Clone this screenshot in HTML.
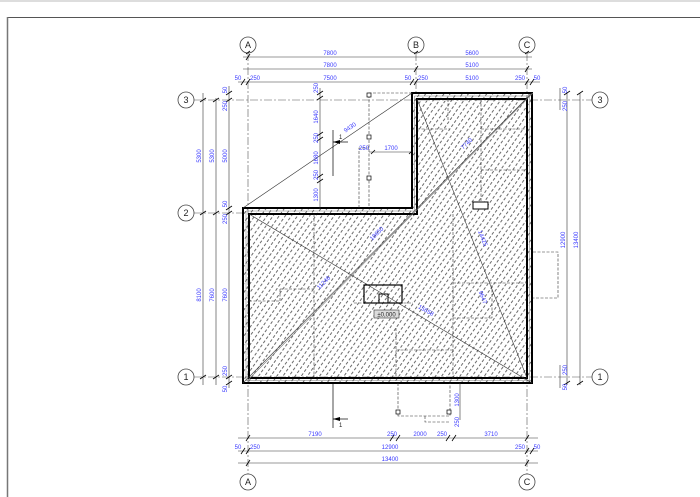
<!DOCTYPE html>
<html><head><meta charset="utf-8"><style>
html,body{margin:0;padding:0;background:#fff;width:700px;height:497px;overflow:hidden}
svg{display:block}
text{font-family:"Liberation Sans",sans-serif;font-size:6px;fill:#3a3aff}
.k{fill:#222;font-size:9px}
</style></head><body>
<svg width="700" height="497" viewBox="0 0 700 497">
<defs>
<pattern id="h" width="5" height="5" patternUnits="userSpaceOnUse" patternTransform="rotate(-55)">
<line x1="0" y1="2.5" x2="3" y2="2.5" stroke="#444" stroke-width="0.8"/>
</pattern>
</defs>
<rect x="0" y="0" width="700" height="2" fill="#ddd"/>
<line x1="7" y1="17.5" x2="700" y2="17.5" stroke="#555" stroke-width="1"/>
<line x1="7.5" y1="17" x2="7.5" y2="497" stroke="#777" stroke-width="1.5"/>

<g stroke="#555" stroke-width="0.6" stroke-dasharray="8,2,2,2" fill="none">
<line x1="248" y1="53" x2="248" y2="474"/>
<line x1="416" y1="53" x2="416" y2="93"/>
<line x1="527" y1="53" x2="527" y2="474"/>
<line x1="194" y1="100" x2="592" y2="100"/>
<line x1="194" y1="213" x2="243" y2="213"/>
<line x1="194" y1="377" x2="592" y2="377"/>
</g>
<g fill="#fff" stroke="#444" stroke-width="0.8">
<circle cx="248" cy="45" r="8"/><circle cx="416" cy="45" r="8"/><circle cx="527" cy="45" r="8"/>
<circle cx="186" cy="100" r="8"/><circle cx="186" cy="213" r="8"/><circle cx="186" cy="377" r="8"/>
<circle cx="600" cy="100" r="8"/><circle cx="600" cy="377" r="8"/>
<circle cx="248" cy="482" r="8"/><circle cx="527" cy="482" r="8"/>
</g>
<g text-anchor="middle">
<text class="k" x="248" y="48">A</text><text class="k" x="416" y="48">B</text><text class="k" x="527" y="48">C</text>
<text class="k" x="186" y="103">3</text><text class="k" x="186" y="216">2</text><text class="k" x="186" y="380">1</text>
<text class="k" x="600" y="103">3</text><text class="k" x="600" y="380">1</text>
<text class="k" x="248" y="485">A</text><text class="k" x="527" y="485">C</text>
</g>

<path d="M412,93 H532 V383 H243 V208 H412 Z" fill="url(#h)"/>
<path d="M412,93 H532 V383 H243 V208 H412 Z" fill="none" stroke="#000" stroke-width="2"/>
<path d="M417,99 H527 V378 H249 V214 H417 Z" fill="none" stroke="#000" stroke-width="2"/>
<path d="M414.5,96 H529.5 V380.5 H246 V211 H414.5 Z" fill="none" stroke="#555" stroke-width="0.4"/>

<g stroke="#333" stroke-width="0.6" fill="none">
<line x1="243" y1="208" x2="412" y2="93"/>
<line x1="532" y1="93" x2="243" y2="383"/>
<line x1="249" y1="214" x2="532" y2="383"/>
<line x1="417" y1="99" x2="527" y2="378"/>
<line x1="533" y1="93" x2="248" y2="380" stroke="#777"/>
</g>
<g stroke="#333" stroke-width="0.6" fill="none" stroke-dasharray="3,1.5">
<line x1="314" y1="214" x2="314" y2="378"/>
<line x1="453" y1="214" x2="453" y2="378"/>
<line x1="481" y1="99" x2="481" y2="208"/>
<line x1="417" y1="129" x2="450" y2="129"/>
<line x1="481" y1="129" x2="527" y2="129"/>
<line x1="481" y1="170" x2="527" y2="170"/>
<line x1="453" y1="283" x2="527" y2="283"/>
<line x1="453" y1="318" x2="492" y2="318"/>
<line x1="492" y1="285" x2="492" y2="318"/>
<line x1="249" y1="301" x2="280" y2="301"/>
<line x1="280" y1="289" x2="280" y2="301"/>
<line x1="280" y1="289" x2="314" y2="289"/>
<line x1="396" y1="350" x2="453" y2="350"/>
<line x1="396" y1="328" x2="396" y2="378"/>
<line x1="448" y1="99" x2="448" y2="120"/>
<line x1="354" y1="303" x2="413" y2="303"/>
</g>
<rect x="364" y="285" width="38" height="18" fill="none" stroke="#000" stroke-width="1.2"/>
<rect x="379" y="294" width="9" height="9" fill="none" stroke="#000" stroke-width="1"/>
<rect x="473" y="202" width="15" height="7" fill="#fff" stroke="#000" stroke-width="1"/>
<rect x="374" y="310" width="25" height="8" fill="#ddd" stroke="#333" stroke-width="0.6"/>
<text x="386.5" y="316.5" text-anchor="middle" style="fill:#222">±0,000</text>

<g stroke="#333" stroke-width="0.6" fill="none" stroke-dasharray="3,1.5">
<path d="M412,93 H369 V208"/>
<path d="M359,208 V148 H369"/>
<path d="M533,252 H558 V298 H533"/>
<path d="M398,383 V416 H450 V383"/>
<path d="M425,416 V422 H450"/>
</g>
<g fill="#fff" stroke="#000" stroke-width="0.7">
<rect x="367" y="93" width="4" height="4"/><rect x="367" y="135" width="4" height="4"/><rect x="367" y="176" width="4" height="4"/>
<rect x="396" y="410" width="4" height="4"/><rect x="447" y="410" width="4" height="4"/>
</g>

<g stroke="#000" stroke-width="0.7">
<line x1="333" y1="130" x2="333" y2="176"/>
<line x1="333" y1="142" x2="348" y2="142"/>
<line x1="333" y1="383" x2="333" y2="428"/>
<line x1="333" y1="419" x2="348" y2="419"/>
</g>
<polygon points="333,142 340,140 340,144" fill="#000"/>
<polygon points="333,419 340,417 340,421" fill="#000"/>
<text x="339" y="139" style="fill:#222">1</text>
<text x="339" y="427" style="fill:#222">1</text>

<g stroke="#333" stroke-width="0.6">
<line x1="243" y1="57" x2="532" y2="57"/>
<line x1="243" y1="69" x2="532" y2="69"/>
<line x1="238" y1="82" x2="540" y2="82"/>
<line x1="238" y1="438" x2="538" y2="438"/>
<line x1="238" y1="451" x2="538" y2="451"/>
<line x1="238" y1="463" x2="538" y2="463"/>
<line x1="203" y1="93" x2="203" y2="385"/>
<line x1="216" y1="98" x2="216" y2="385"/>
<line x1="229" y1="86" x2="229" y2="388"/>
<line x1="567" y1="93" x2="567" y2="385"/>
<line x1="580" y1="93" x2="580" y2="385"/>
<line x1="320" y1="88" x2="320" y2="209"/>
<line x1="369" y1="152" x2="411" y2="152"/>
<line x1="460" y1="383" x2="460" y2="420"/>
<line x1="560" y1="88" x2="560" y2="110"/>
<line x1="560" y1="365" x2="560" y2="388"/>
</g>
<g stroke="#000" stroke-width="0.8">
<path d="M246,54l4,-3M414,54l4,-3M525,54l4,-3"/>
<path d="M246,60l4,-6M414,72l4,-6M525,72l4,-6"/>
<path d="M241,85l4,-6M246,85l4,-6M410,85l4,-6M414,85l4,-6M525,85l4,-6M530,85l4,-6"/>
<path d="M246,441l4,-6M390,441l4,-6M396,441l4,-6M446,441l4,-6M452,441l4,-6M525,441l4,-6"/>
<path d="M241,454l4,-6M246,454l4,-6M525,454l4,-6M530,454l4,-6"/>
<path d="M246,466l4,-6M525,466l4,-6"/>
<path d="M200,102l6,-4M200,215l6,-4M200,379l6,-4"/>
<path d="M213,102l6,-4M213,215l6,-4M213,379l6,-4"/>
<path d="M226,95l6,-4M226,102l6,-4M226,210l6,-4M226,215l6,-4M226,379l6,-4M226,385l6,-4"/>
<path d="M564,95l6,-4M564,385l6,-4M577,95l6,-4M577,385l6,-4"/>
<path d="M317,95l6,-4M317,100l6,-4M317,136l6,-4M317,141l6,-4M317,178l6,-4M317,183l6,-4"/>
<path d="M371,154l4,-4M409,154l4,-4"/>
</g>

<g text-anchor="middle">
<text x="330" y="55">7800</text><text x="472" y="55">5600</text>
<text x="330" y="67">7800</text><text x="472" y="67">5100</text>
<text x="238" y="80">50</text><text x="255" y="80">250</text><text x="330" y="80">7500</text>
<text x="408" y="80">50</text><text x="423" y="80">250</text><text x="472" y="80">5100</text>
<text x="520" y="80">250</text><text x="537" y="80">50</text>
<text x="315" y="436">7190</text><text x="392" y="436">250</text><text x="420" y="436">2000</text>
<text x="442" y="436">250</text><text x="491" y="436">3710</text>
<text x="238" y="449">50</text><text x="255" y="449">250</text><text x="390" y="449">12900</text>
<text x="520" y="449">250</text><text x="537" y="449">50</text>
<text x="390" y="461">13400</text>
<text x="391" y="150">1700</text><text x="364" y="150">250</text>
</g>
<g text-anchor="middle">
<text transform="translate(201,156) rotate(-90)">5300</text>
<text transform="translate(214,156) rotate(-90)">5300</text>
<text transform="translate(227,156) rotate(-90)">5000</text>
<text transform="translate(201,295) rotate(-90)">8100</text>
<text transform="translate(214,295) rotate(-90)">7600</text>
<text transform="translate(227,295) rotate(-90)">7600</text>
<text transform="translate(227,90) rotate(-90)">50</text>
<text transform="translate(227,106) rotate(-90)">250</text>
<text transform="translate(227,204) rotate(-90)">50</text>
<text transform="translate(227,219) rotate(-90)">250</text>
<text transform="translate(227,371) rotate(-90)">250</text>
<text transform="translate(227,389) rotate(-90)">50</text>
<text transform="translate(565,240) rotate(-90)">12900</text>
<text transform="translate(578,240) rotate(-90)">13400</text>
<text transform="translate(567,370) rotate(-90)">250</text>
<text transform="translate(567,387) rotate(-90)">50</text>
<text transform="translate(567,106) rotate(-90)">250</text>
<text transform="translate(567,90) rotate(-90)">50</text>
<text transform="translate(318,88) rotate(-90)">250</text>
<text transform="translate(318,117) rotate(-90)">1640</text>
<text transform="translate(318,138) rotate(-90)">250</text>
<text transform="translate(318,158) rotate(-90)">1680</text>
<text transform="translate(318,175) rotate(-90)">250</text>
<text transform="translate(318,195) rotate(-90)">1300</text>
<text transform="translate(459,400) rotate(-90)">1300</text>
<text transform="translate(459,422) rotate(-90)">250</text>
<text transform="translate(351,129) rotate(-34)">9430</text>
<text transform="translate(468,145) rotate(-45)">7740</text>
<text transform="translate(378,235) rotate(-45)">18650</text>
<text transform="translate(325,284) rotate(-45)">11246</text>
<text transform="translate(481,239) rotate(68)">14425</text>
<text transform="translate(481,298) rotate(68)">9647</text>
<text transform="translate(425,312) rotate(30)">15658</text>
</g>
</svg>
</body></html>
